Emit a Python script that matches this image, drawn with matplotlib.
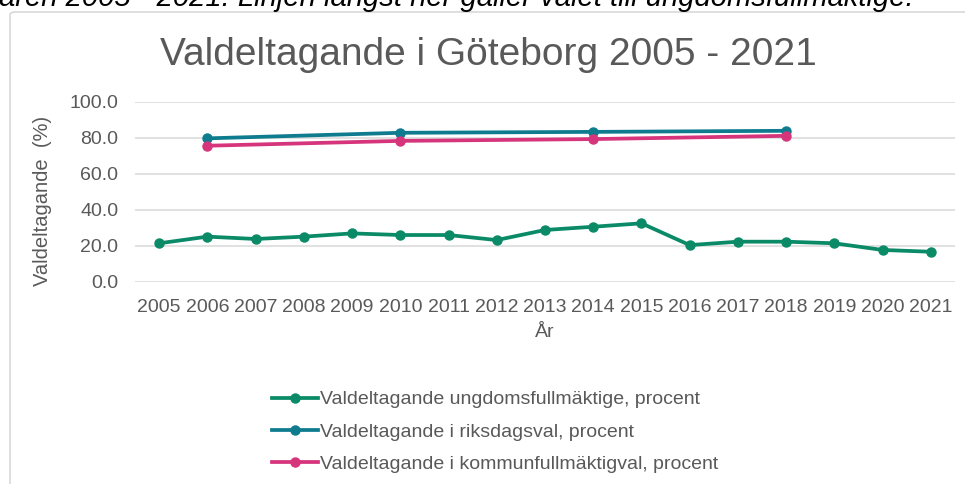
import matplotlib.pyplot as plt
from matplotlib.patches import FancyBboxPatch
import numpy as np

plt.rcParams['font.family'] = ['Liberation Sans', 'DejaVu Sans']

# data
years = [str(y) for y in range(2005, 2022)]
ungdom = [21.5, 25.2, 23.9, 25.2, 27.0, 26.1, 26.1, 23.3, 28.9, 30.7, 32.6,
          20.5, 22.4, 22.4, 21.5, 17.8, 16.8]
riks_years = ['2006', '2010', '2014', '2018']
riks = [79.8, 82.9, 83.4, 84.0]
kommun = [75.7, 78.4, 79.4, 81.2]

c_green = '#0B8A68'
c_teal = '#0E7C8E'
c_pink = '#D6357B'
txt = '#595959'

W, H = 965, 484
fig = plt.figure(figsize=(W / 100, H / 100), dpi=100)

# chart frame (runs off the right and bottom edges)
frame = FancyBboxPatch((10 / W, 1 - 500 / H), 980 / W, 488 / H,
                       boxstyle='round,pad=0,rounding_size=0.006',
                       transform=fig.transFigure, fc='none', ec='#D9D9D9',
                       lw=1.2, clip_on=False, zorder=-1)
fig.patches.append(frame)

# cut-off caption from the page above
fig.text(-1 / W, 1 - 6 / H,
         'åren 2005 - 2021. Linjen längst ner gäller valet till ungdomsfullmäktige.',
         fontsize=21, style='italic', color='black', va='baseline', ha='left')

ax = fig.add_axes([135 / W, 1 - 282 / H, 820 / W, 180 / H])
ax.patch.set_alpha(0)
x = np.arange(len(years))
xr = [years.index(y) for y in riks_years]

l1, = ax.plot(x, ungdom, color=c_green, lw=2.7, marker='o', ms=6.5, zorder=3)
l2, = ax.plot(xr, riks, color=c_teal, lw=2.7, marker='o', ms=6.5, zorder=3)
l3, = ax.plot(xr, kommun, color=c_pink, lw=2.7, marker='o', ms=6.5, zorder=4)

ax.set_xlim(-0.5, len(years) - 0.5)
ax.set_ylim(0, 100)
ax.set_yticks(np.arange(0, 101, 20))
ax.set_yticklabels([f'{v:.1f}' for v in range(0, 101, 20)])
ax.set_xticks(x)
ax.set_xticklabels(years)
ax.tick_params(length=0, labelsize=14, labelcolor=txt)
ax.tick_params(axis='y', pad=12)
ax.tick_params(axis='x', pad=12)
ax.grid(axis='y', color='#D9D9D9', lw=1.1)
ax.set_axisbelow(True)
for s in ax.spines.values():
    s.set_visible(False)

ax.set_ylabel('Valdeltagande  (%)', fontsize=14.5, color=txt)
ax.yaxis.set_label_coords(-0.101, 0.45)
ax.set_xlabel('År', fontsize=14, color=txt, labelpad=6)

fig.text(488 / W, 1 - 55 / H, 'Valdeltagande i Göteborg 2005 - 2021',
         fontsize=28, color=txt, ha='center', va='center')

fig.legend([l1, l2, l3],
           ['Valdeltagande ungdomsfullmäktige, procent',
            'Valdeltagande i riksdagsval, procent',
            'Valdeltagande i kommunfullmäktigval, procent'],
           loc='upper left', bbox_to_anchor=(264 / W, 1 - 383 / H),
           frameon=False, fontsize=14, labelcolor=txt, handlelength=2.4,
           handletextpad=0.1, labelspacing=0.75, borderaxespad=0)

fig.savefig('out.png', dpi=100)
